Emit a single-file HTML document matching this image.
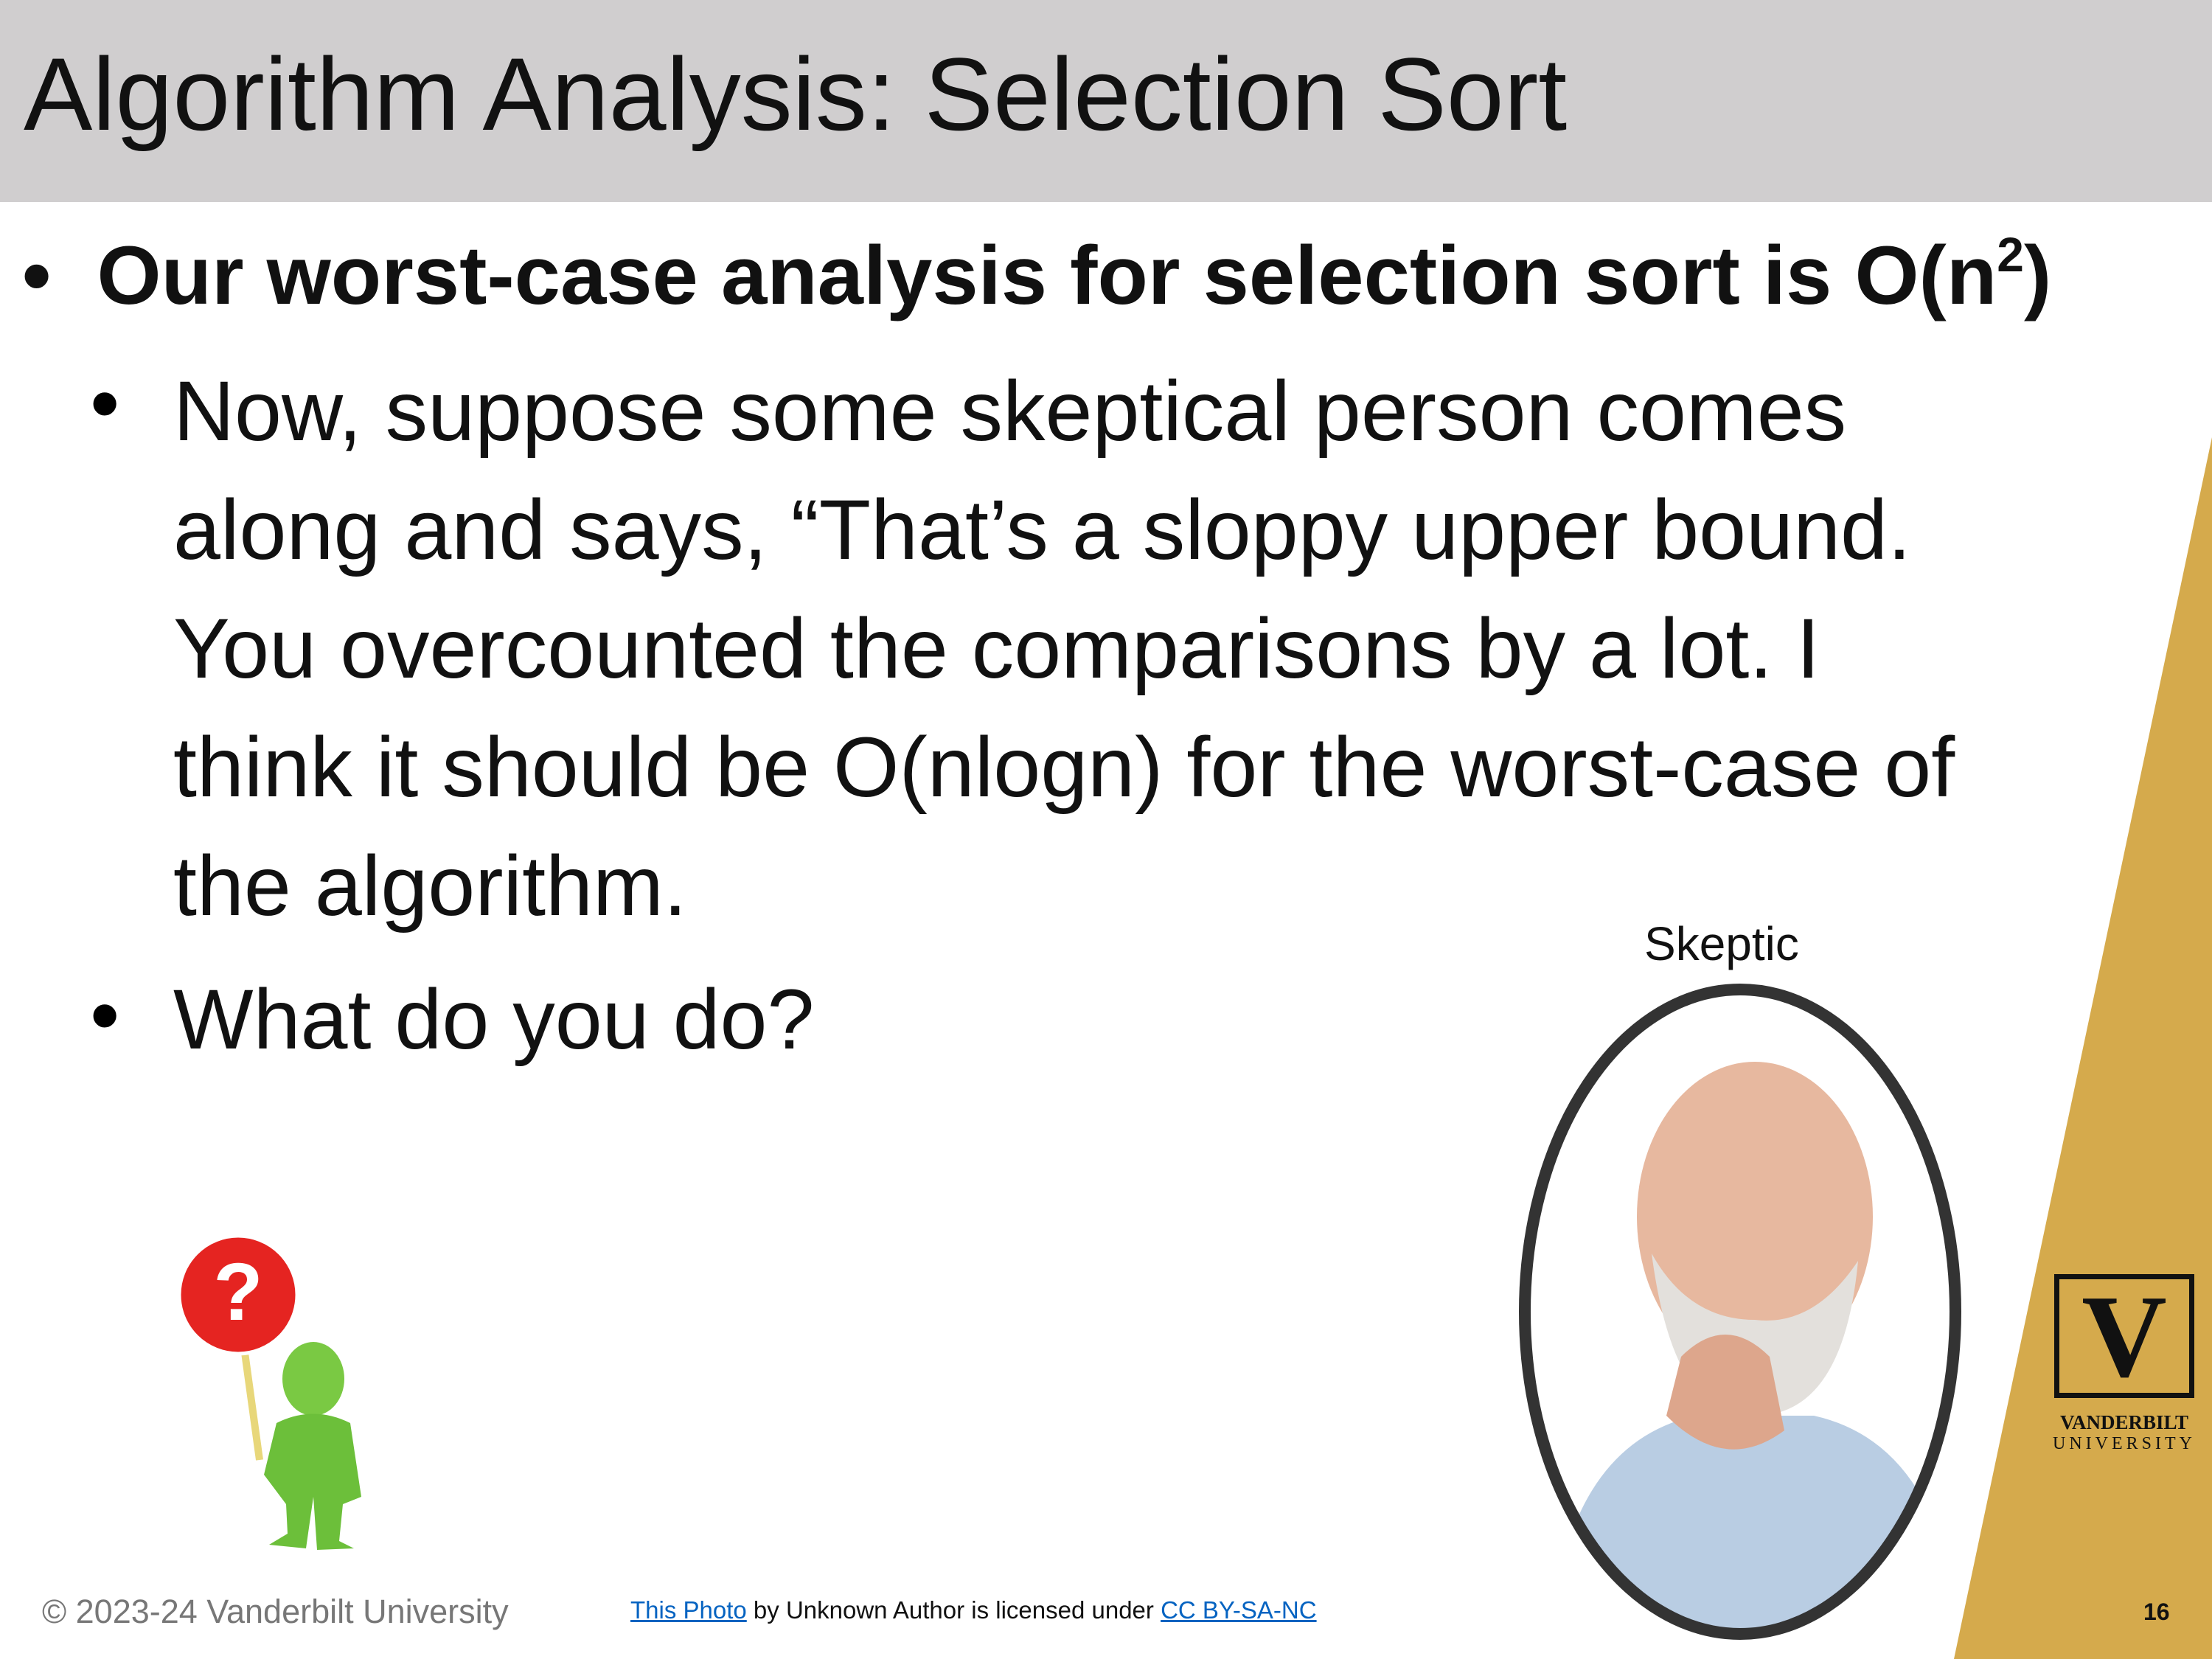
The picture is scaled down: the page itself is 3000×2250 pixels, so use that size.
<!DOCTYPE html>
<html><head><meta charset="utf-8"><style>
html,body{margin:0;padding:0;}
body{width:3000px;height:2250px;position:relative;overflow:hidden;background:#fff;font-family:"Liberation Sans","DejaVu Sans",sans-serif;}
.abs{position:absolute;white-space:nowrap;}
</style></head><body>
<div class="abs" style="left:0;top:0;width:3000px;height:274px;background:#d0cecf;"></div>
<div class="abs" style="left:32px;top:58px;font-size:140px;color:#111;line-height:1;">Algorithm Analysis: Selection Sort</div>

<svg class="abs" style="left:0;top:0" width="3000" height="2250"><polygon points="3000,593 3000,2250 2650,2250" fill="#d5aa4c"/></svg>

<div class="abs" style="left:30px;top:318px;font-size:112px;font-weight:bold;color:#111;line-height:1;">•&nbsp;&nbsp;Our worst-case analysis for selection sort is O(n<sup style="font-size:66px;vertical-align:44px;line-height:0">2</sup>)</div>

<div class="abs" style="left:122px;top:490px;font-size:115px;line-height:1;">•</div>
<div class="abs" style="left:235px;top:478px;font-size:115px;line-height:161px;color:#111;white-space:normal;width:2700px;">Now, suppose some skeptical person comes<br>along and says, “That’s a sloppy upper bound.<br>You overcounted the comparisons by a lot. I<br>think it should be O(nlogn) for the worst-case of<br>the algorithm.</div>
<div class="abs" style="left:122px;top:1320px;font-size:115px;line-height:1;">•</div>
<div class="abs" style="left:235px;top:1326px;font-size:115px;line-height:1;color:#111;">What do you do?</div>

<div class="abs" style="left:2230px;top:1248px;font-size:64px;color:#111;line-height:1;">Skeptic</div>
<svg class="abs" style="left:2040px;top:1320px" width="640" height="920">
<defs><clipPath id="ov"><ellipse cx="320" cy="459" rx="292" ry="437"/></clipPath></defs>
<g clip-path="url(#ov)">
<rect width="640" height="920" fill="#fff"/>
<path d="M60 920 Q80 640 260 600 L420 600 Q600 640 620 920Z" fill="#b9cde3"/>
<ellipse cx="340" cy="330" rx="160" ry="210" fill="#e7b89f"/>
<path d="M200 380 Q230 610 340 600 Q460 600 480 390 Q420 480 340 470 Q250 470 200 380Z" fill="#e3e0dc"/>
<path d="M240 520 Q300 460 360 520 L380 620 Q300 680 220 600Z" fill="#dda68c"/>
</g>
<ellipse cx="320" cy="459" rx="292" ry="437" fill="none" stroke="#333" stroke-width="16"/>
</svg>

<svg class="abs" style="left:240px;top:1670px" width="280" height="450">
<line x1="90" y1="150" x2="112" y2="310" stroke="#e8d77a" stroke-width="10"/>
<circle cx="83" cy="86" r="80" fill="#e52421"/>
<circle cx="83" cy="86" r="80" fill="none" stroke="#fff" stroke-width="5"/>
<text x="83" y="120" font-size="110" font-weight="bold" fill="#fff" text-anchor="middle" font-family="Liberation Sans,sans-serif">?</text>
<ellipse cx="185" cy="200" rx="42" ry="50" fill="#7ac943"/>
<path d="M135 260 Q185 235 235 260 L250 360 L225 370 L220 420 L240 430 L190 432 L185 360 L175 430 L125 425 L150 410 L148 370 L118 330 Z" fill="#6cbf3a"/>
</svg>

<div class="abs" style="left:2775px;top:1728px;width:212px;text-align:center;">
<div style="width:176px;height:154px;border:7px solid #111;margin:0 auto;position:relative;font-family:'Liberation Serif',serif;font-size:160px;font-weight:bold;line-height:154px;color:#111;">V</div>
<div style="font-family:'Liberation Serif',serif;font-size:27px;font-weight:bold;color:#111;margin-top:18px;">VANDERBILT</div>
<div style="font-family:'Liberation Serif',serif;font-size:24px;letter-spacing:5px;color:#111;">UNIVERSITY</div>
</div>

<div class="abs" style="left:57px;top:2160px;font-size:45px;color:#777;">© 2023-24 Vanderbilt University</div>
<div class="abs" style="left:855px;top:2165px;font-size:33px;color:#111;"><span style="color:#0563c1;text-decoration:underline;">This Photo</span> by Unknown Author is licensed under <span style="color:#0563c1;text-decoration:underline;">CC BY-SA-NC</span></div>
<div class="abs" style="left:2907px;top:2168px;font-size:32px;font-weight:bold;color:#111;">16</div>
</body></html>
